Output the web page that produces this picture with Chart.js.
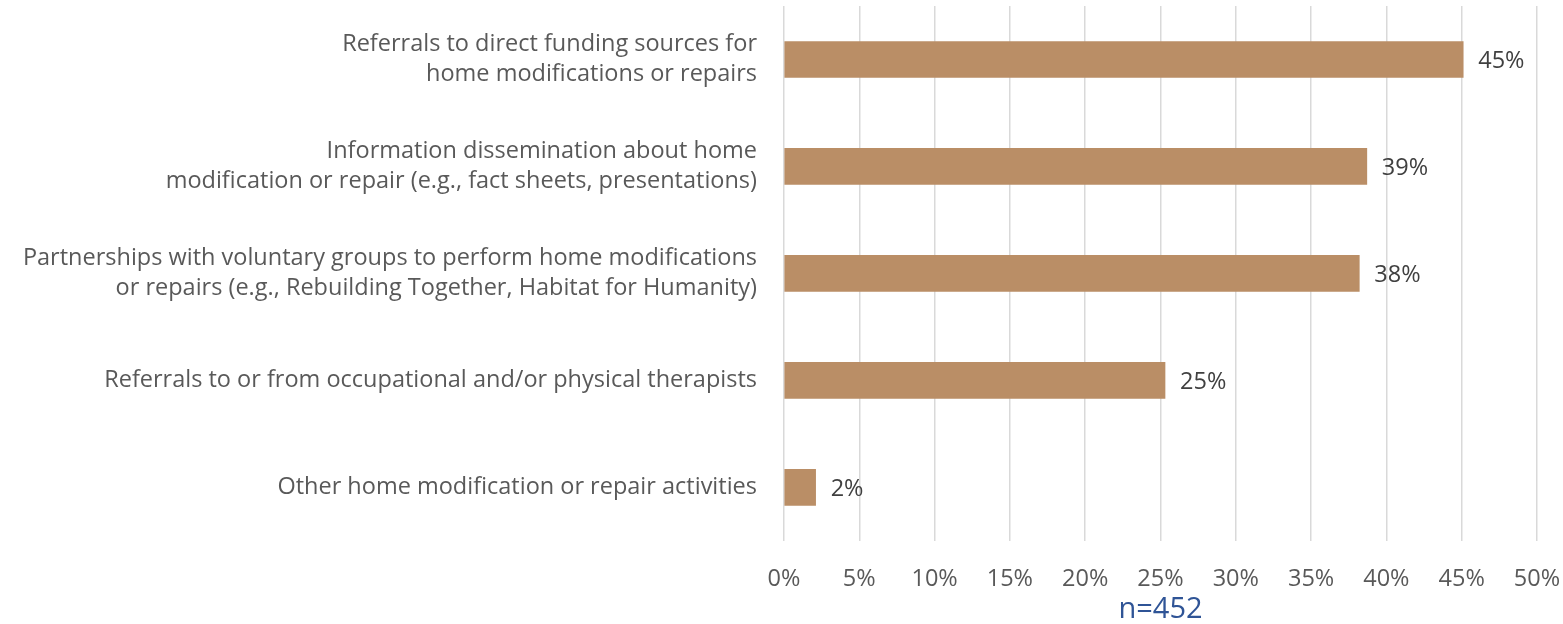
<!DOCTYPE html>
<html>
<head>
<meta charset="utf-8">
<script src="https://cdn.jsdelivr.net/npm/chart.js@4"></script>
<style>
    html, body { margin: 0; padding: 0; background: #ffffff; }
    #wrap { width: 1563px; height: 624px; }
</style>
</head>
<body>
<div id="wrap"><canvas id="barChart" width="1563" height="624"></canvas></div>
<script>
// Данные диаграммы
const categories = [
    ['Referrals to direct funding sources for', 'home modifications or repairs'],
    ['Information dissemination about home', 'modification or repair (e.g., fact sheets, presentations)'],
    ['Partnerships with voluntary groups to perform home modifications', 'or repairs (e.g., Rebuilding Together, Habitat for Humanity)'],
    'Referrals to or from occupational and/or physical therapists',
    'Other home modification or repair activities'
];
const shares = [45.1, 38.7, 38.2, 25.3, 2.1];
const shareLabels = ['45%', '39%', '38%', '25%', '2%'];
const xTicks = [0, 5, 10, 15, 20, 25, 30, 35, 40, 45, 50];
const sampleNote = 'n=452';

const fontFamily = '"Open Sans", "Noto Sans", sans-serif';

// Подписи значений справа от столбцов
const valueLabels = {
    id: 'valueLabels',
    afterDatasetsDraw(chart) {
        const ctx = chart.ctx;
        const meta = chart.getDatasetMeta(0);
        ctx.save();
        ctx.font = '23.5px ' + fontFamily;
        ctx.fillStyle = '#404040';
        ctx.textAlign = 'left';
        ctx.textBaseline = 'middle';
        meta.data.forEach((bar, i) => {
            ctx.fillText(shareLabels[i], bar.x + 15, bar.y + 2);
        });
        ctx.restore();
    }
};

const data = {
    labels: categories,
    datasets: [
        {
            data: shares,
            backgroundColor: '#BA8E66',
            borderWidth: 0,
            barThickness: 36
        }
    ]
};

const config = {
    type: 'bar',
    data: data,
    plugins: [valueLabels],
    options: {
        indexAxis: 'y',
        responsive: false,
        animation: false,
        layout: {
            padding: { top: 6, right: 26, bottom: 0, left: 0 }
        },
        plugins: {
            legend: { display: false },
            tooltip: { enabled: false }
        },
        scales: {
            x: {
                min: 0,
                max: 50,
                afterBuildTicks(scale) {
                    scale.ticks = xTicks.map(v => ({ value: v }));
                },
                afterFit(scale) {
                    scale.paddingLeft = 0;
                    scale.paddingRight = 0;
                },
                grid: {
                    color: '#D9D9D9',
                    lineWidth: 1.5,
                    drawTicks: false
                },
                border: { display: false },
                ticks: {
                    padding: 24,
                    color: '#595959',
                    font: { family: fontFamily, size: 23.5, lineHeight: 1.2 },
                    callback: v => v + '%'
                },
                title: {
                    display: true,
                    text: sampleNote,
                    color: '#2F5496',
                    font: { family: fontFamily, size: 29, lineHeight: 1.0 },
                    padding: { top: -22, bottom: 0 }
                }
            },
            y: {
                grid: { display: false, drawTicks: false },
                border: { display: false },
                afterFit(scale) {
                    scale.width = 784;
                    scale.paddingTop = 0;
                    scale.paddingBottom = 0;
                },
                ticks: {
                    padding: 27,
                    color: '#595959',
                    font: { family: fontFamily, size: 23.5, lineHeight: 1.3 }
                }
            }
        }
    }
};

const ctxBars = document.getElementById('barChart').getContext('2d');
const myBarChart = new Chart(ctxBars, config);
</script>
</body>
</html>
